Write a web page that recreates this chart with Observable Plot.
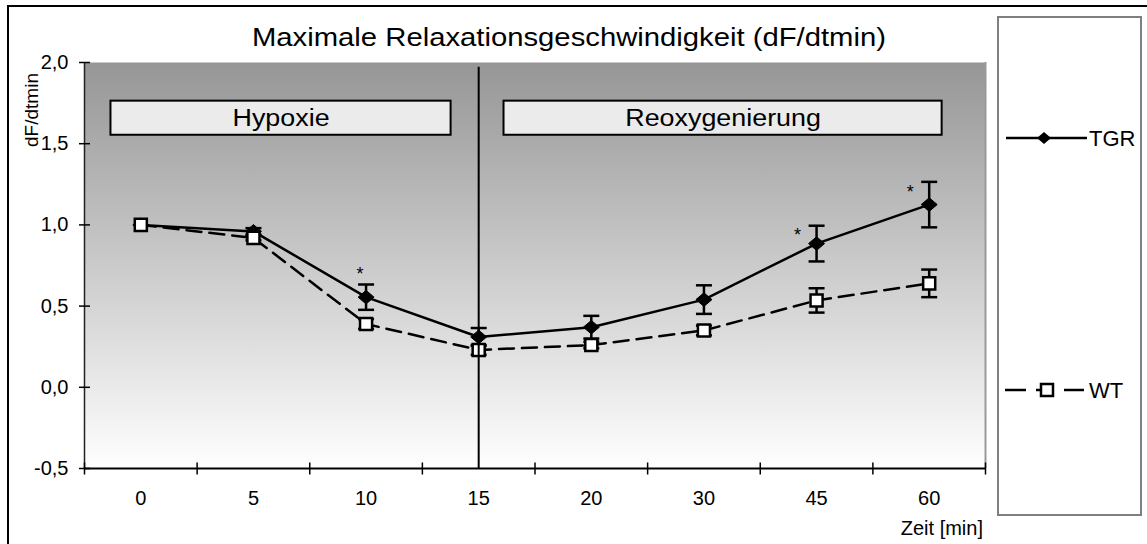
<!DOCTYPE html>
<html>
<head>
<meta charset="utf-8">
<script src="https://cdn.jsdelivr.net/npm/d3@7"></script>
<script src="https://cdn.jsdelivr.net/npm/@observablehq/plot@0.6"></script>
<style>
  body { margin: 0; background: #fff; font-family: "Liberation Sans", Arial, sans-serif; color: #000; }
  #wrap { position: relative; width: 1147px; height: 544px; overflow: hidden; background: #fff; }
  #frame { position: absolute; left: 7px; top: 5px; width: 1300px; height: 700px; border-top: 2px solid #000; border-left: 2px solid #000; }
  #chart { position: absolute; left: 0; top: 0; }
  #title { position: absolute; left: 0; top: 25px; width: 1138px; text-align: center; font-size: 25px; line-height: 25px; white-space: nowrap; transform: scaleX(1.17); transform-origin: 569px 50%; }
  #ylab { position: absolute; left: 31px; top: 110px; font-size: 19px; line-height: 19px; white-space: nowrap; transform: translate(-50%, -50%) rotate(-90deg); }
  #xlab { position: absolute; left: 0; top: 518px; width: 983px; text-align: right; font-size: 20px; line-height: 20px; white-space: nowrap; }
  #legend { position: absolute; left: 997px; top: 16px; width: 145px; height: 500px; box-sizing: border-box; border: 2px solid #7f7f7f; background: #fff; }
  #legend svg { position: absolute; left: -2px; top: -2px; overflow: visible; }
  .stretch { transform-box: fill-box; transform-origin: center; transform: scaleX(1.12); }
</style>
</head>
<body>
<div id="wrap">
  <div id="frame"></div>
  <div id="chart"></div>
  <div id="title">Maximale Relaxationsgeschwindigkeit (dF/dtmin)</div>
  <div id="ylab">dF/dtmin</div>
  <div id="xlab">Zeit [min]</div>
  <div id="legend">
    <svg width="145" height="500" font-family="'Liberation Sans', Arial, sans-serif" font-size="22">
      <g transform="translate(0,122)">
        <line x1="9" x2="90" y1="0" y2="0" stroke="#000" stroke-width="2.5"/>
        <path d="M-7,0L0,-6L7,0L0,6Z" transform="translate(47,0)" fill="#000"/>
        <text x="92" y="0" dy="0.35em">TGR</text>
      </g>
      <g transform="translate(0,374)">
        <line x1="8" x2="29" y1="0" y2="0" stroke="#000" stroke-width="2.5"/>
        <line x1="39" x2="45" y1="0" y2="0" stroke="#000" stroke-width="2.5"/>
        <line x1="67" x2="87" y1="0" y2="0" stroke="#000" stroke-width="2.5"/>
        <rect x="44" y="-6" width="12" height="12" fill="#fff" stroke="#000" stroke-width="2.5"/>
        <text x="92" y="0" dy="0.35em">WT</text>
      </g>
    </svg>
  </div>
</div>
<script>
// ---- data ----
const categories = ["0", "5", "10", "15", "20", "30", "45", "60"];
const tgrMean = [1.00, 0.96, 0.555, 0.31, 0.37, 0.54, 0.885, 1.125];
const tgrSem  = [0.00, 0.02, 0.078, 0.055, 0.07, 0.088, 0.11, 0.14];
const wtMean  = [1.00, 0.92, 0.39, 0.23, 0.26, 0.35, 0.535, 0.64];
const wtSem   = [0.00, 0.015, 0.03, 0.03, 0.02, 0.03, 0.075, 0.085];
const yDomain = [-0.5, 2.0];
const sigAbove = ["10"];
const sigLeft = ["45", "60"];
const phaseLabels = ["Hypoxie", "Reoxygenierung"];
const phaseFrom = [-0.265, 3.225];
const phaseTo = [2.755, 7.115];
const phaseLow = 1.552;
const phaseHigh = 1.762;
const dividerAt = "15";
const dividerTop = 1.97;

// ---- derived tables ----
const n = categories.length;
const idx = c => categories.indexOf(c);
const rows = categories.map((c, i) => ({i, c, tgr: tgrMean[i], tgrSem: tgrSem[i], wt: wtMean[i], wtSem: wtSem[i]}));
const tgrErr = rows.filter(d => d.tgrSem > 0);
const wtErr = rows.filter(d => d.wtSem > 0);
const boundaries = d3.range(n + 1).map(k => k - 0.5);
const yTicks = d3.ticks(yDomain[0], yDomain[1], 5);
const phases = phaseLabels.map((label, k) => ({label, x1: phaseFrom[k], x2: phaseTo[k]}));

// custom symbols
const hline = {draw(ctx, size) { const r = Math.sqrt(size / Math.PI); ctx.moveTo(-r, 0); ctx.lineTo(r, 0); }};
const vline = {draw(ctx, size) { const r = Math.sqrt(size / Math.PI); ctx.moveTo(0, -r); ctx.lineTo(0, r); }};
const wideDiamond = {draw(ctx, size) { const r = Math.sqrt(size / Math.PI); const h = r * 0.85; ctx.moveTo(-r, 0); ctx.lineTo(0, -h); ctx.lineTo(r, 0); ctx.lineTo(0, h); ctx.closePath(); }};

const chart = Plot.plot({
  width: 1147,
  height: 544,
  marginLeft: 84,
  marginRight: 162,
  marginTop: 62,
  marginBottom: 76,
  style: {fontFamily: "'Liberation Sans', Arial, sans-serif", fontSize: "20px", color: "#000", background: "transparent", overflow: "visible"},
  x: {domain: [-0.5, n - 0.5], ticks: n, tickFormat: i => categories[i] ?? "", tickSize: 0, tickPadding: 22, label: null},
  y: {domain: yDomain, ticks: 5, tickFormat: d => d.toFixed(1).replace(".", ","), tickSize: 0, tickPadding: 16, label: null},
  marks: [
    Plot.frame({fill: "url(#bgGrad)", stroke: null}),
    Plot.ruleX([n - 0.5], {stroke: "#9a9a9a", strokeWidth: 2}),
    // phase boxes
    Plot.rect(phases, {x1: "x1", x2: "x2", y1: phaseLow, y2: phaseHigh, fill: "#ebebeb", stroke: "#000", strokeWidth: 2}),
    Plot.text(phases, {x: d => (d.x1 + d.x2) / 2, y: (phaseLow + phaseHigh) / 2, text: "label", fontSize: 24, lineAnchor: "middle"}),
    // axes lines and cross ticks
    Plot.ruleX([-0.5], {stroke: "#222", strokeWidth: 1.5}),
    Plot.ruleY([yDomain[0]], {stroke: "#000", strokeWidth: 2}),
    Plot.dot(boundaries, {x: d => d, y: yDomain[0], symbol: vline, r: 6, stroke: "#000", strokeWidth: 1.5, fill: "none"}),
    Plot.dot(yTicks, {x: -0.5, y: d => d, symbol: hline, r: 5.5, stroke: "#000", strokeWidth: 1.5, fill: "none"}),
    // TGR series
    Plot.line(rows, {x: "i", y: "tgr", stroke: "#000", strokeWidth: 2.5}),
    Plot.ruleX(tgrErr, {x: "i", y1: d => d.tgr - d.tgrSem, y2: d => d.tgr + d.tgrSem, stroke: "#000", strokeWidth: 2.5}),
    Plot.dot(tgrErr, {x: "i", y: d => d.tgr + d.tgrSem, symbol: hline, r: 8, stroke: "#000", strokeWidth: 2.5, fill: "none"}),
    Plot.dot(tgrErr, {x: "i", y: d => d.tgr - d.tgrSem, symbol: hline, r: 8, stroke: "#000", strokeWidth: 2.5, fill: "none"}),
    Plot.dot(rows, {x: "i", y: "tgr", symbol: wideDiamond, r: 8, fill: "#000", stroke: "#000", strokeWidth: 1}),
    // WT series
    Plot.line(rows, {x: "i", y: "wt", stroke: "#000", strokeWidth: 2.5, strokeDasharray: "15,8"}),
    Plot.ruleX(wtErr, {x: "i", y1: d => d.wt - d.wtSem, y2: d => d.wt + d.wtSem, stroke: "#000", strokeWidth: 2.5}),
    Plot.dot(wtErr, {x: "i", y: d => d.wt + d.wtSem, symbol: hline, r: 8, stroke: "#000", strokeWidth: 2.5, fill: "none"}),
    Plot.dot(wtErr, {x: "i", y: d => d.wt - d.wtSem, symbol: hline, r: 8, stroke: "#000", strokeWidth: 2.5, fill: "none"}),
    Plot.dot(rows, {x: "i", y: "wt", symbol: "square", r: 6.8, fill: "#fff", stroke: "#000", strokeWidth: 2.5}),
    // divider between phases
    Plot.ruleX([idx(dividerAt)], {y1: yDomain[0], y2: dividerTop, stroke: "#000", strokeWidth: 2}),
    // significance asterisks
    Plot.text(rows.filter(d => sigAbove.includes(d.c)), {x: "i", y: d => d.tgr + d.tgrSem, text: () => "*", fontSize: 18, dx: -6, dy: -10, lineAnchor: "middle"}),
    Plot.text(rows.filter(d => sigLeft.includes(d.c)), {x: "i", y: d => d.tgr + d.tgrSem, text: () => "*", fontSize: 18, dx: -19, dy: 10, lineAnchor: "middle"})
  ]
});

const svg = chart.tagName.toLowerCase() === "svg" ? chart : chart.querySelector("svg");
const ns = "http://www.w3.org/2000/svg";
const defs = document.createElementNS(ns, "defs");
defs.innerHTML = '<linearGradient id="bgGrad" x1="0" y1="0" x2="0" y2="1"><stop offset="0" stop-color="#969696"/><stop offset="1" stop-color="#ffffff"/></linearGradient>';
svg.insertBefore(defs, svg.firstChild);
// widen the phase labels slightly, like the original's stretched lettering
svg.querySelectorAll("text").forEach(t => {
  if (phaseLabels.includes(t.textContent)) {
    const g = document.createElementNS(ns, "g");
    g.setAttribute("class", "stretch");
    t.parentNode.insertBefore(g, t);
    g.appendChild(t);
  }
});
document.getElementById("chart").appendChild(chart);
</script>
</body>
</html>
